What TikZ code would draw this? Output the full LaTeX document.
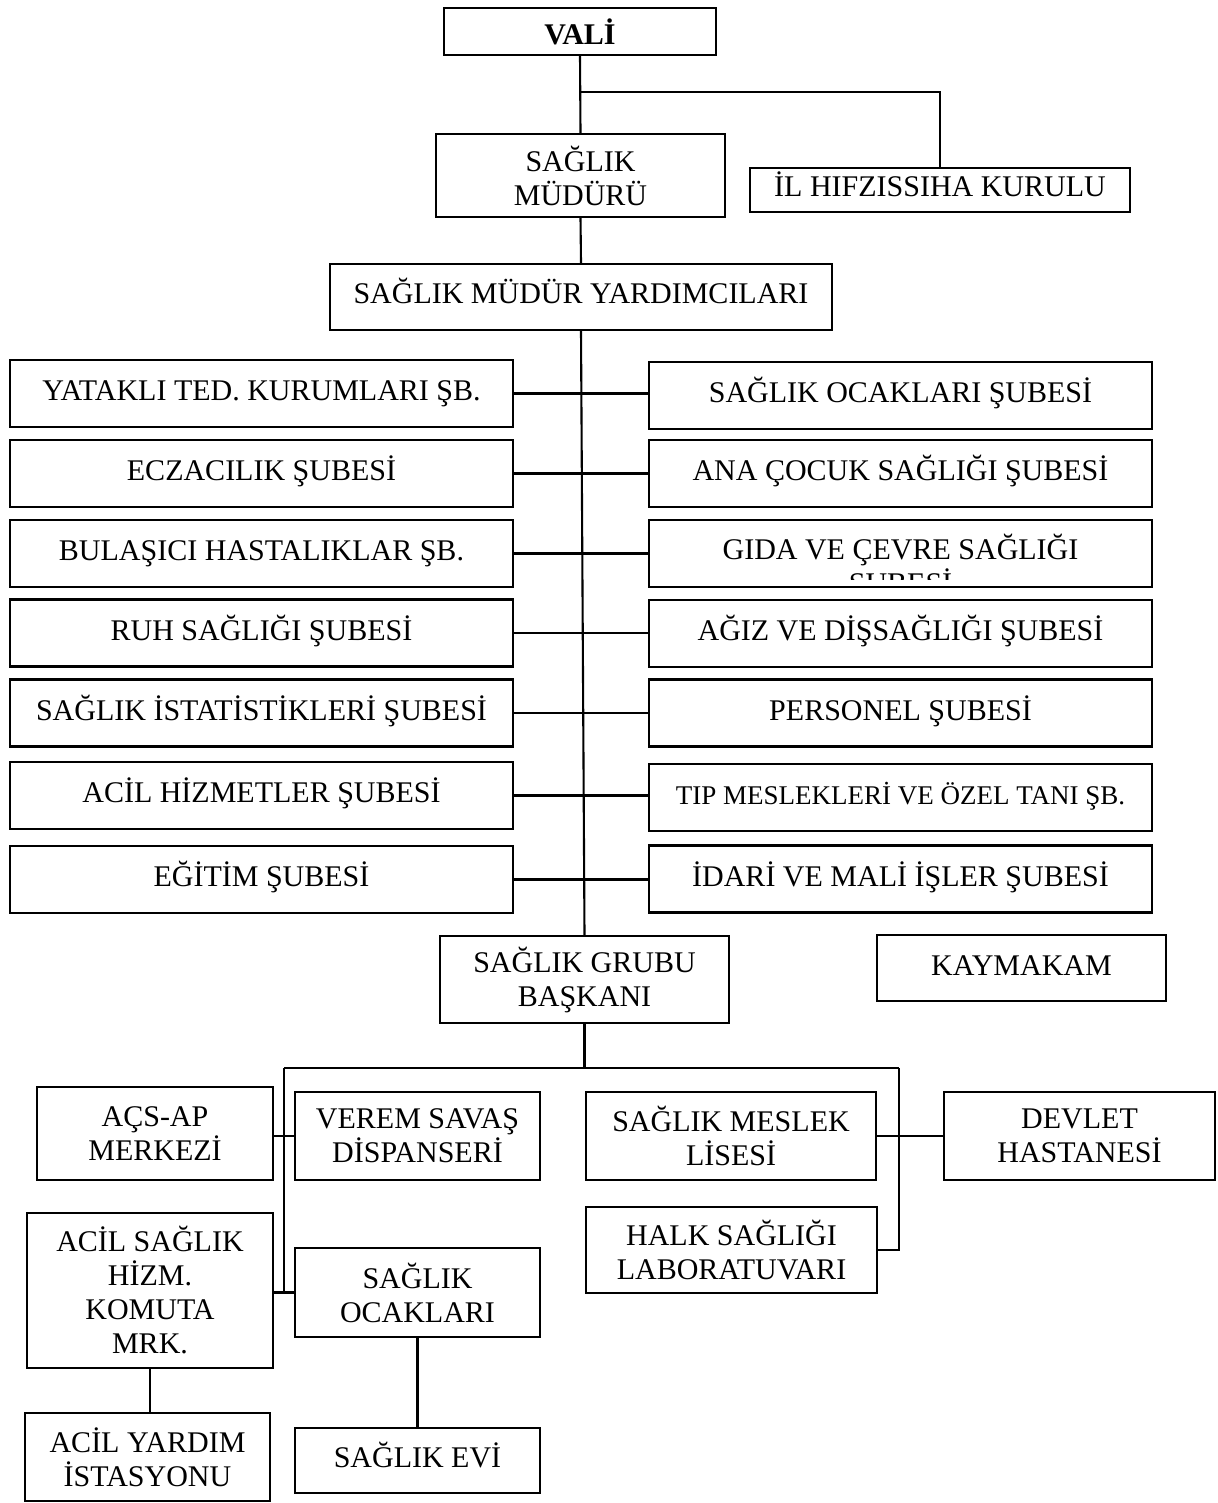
\documentclass[tikz,border=0pt]{standalone}
\usepackage{fontspec}
\setmainfont{Liberation Serif}
\newcommand{\yazi}{\fontsize{30}{34}\selectfont}
\newcommand{\kucukyazi}{\fontsize{27}{31}\selectfont}
\tikzset{
	kutu/.style={draw, line width=2.4pt, align=center, inner sep=0pt, font=\yazi},
	tek/.style={text height=23pt, text depth=9pt},
	sube/.style={kutu, tek, minimum width=503pt, minimum height=67pt},
	cizgi/.style={line width=2.1pt},
}

\begin{document}
\begin{tikzpicture}[x=1pt, y=-1pt]
	\useasboundingbox (0,0) rectangle (1217,1503);

	% ust kisim
	\node[kutu, minimum width=272pt, minimum height=47pt] (vali) at (580,31.5) {\textbf{VALİ}};
	\node[kutu, minimum width=289pt, minimum height=83pt] (mudur) at (580.5,175.5) {SAĞLIK\\MÜDÜRÜ};
	\node[kutu, tek, minimum width=380pt, minimum height=44pt] (hifz) at (940,190) {İL HIFZISSIHA KURULU};
	\node[kutu, tek, minimum width=502pt, minimum height=66pt] (yrd) at (581,297) {SAĞLIK MÜDÜR YARDIMCILARI};

	\coordinate (dal) at (580.5,92);
	\draw[cizgi] (vali.south) -- (mudur.north);
	\draw[cizgi] (dal) -| (hifz.north);
	\draw[cizgi] (mudur.south) -- (yrd.north);

	% subeler
	\node[sube] (yatakli) at (261.5,393.5) {YATAKLI TED. KURUMLARI ŞB.};
	\node[sube] (eczacilik) at (261.5,473.5) {ECZACILIK ŞUBESİ};
	\node[sube] (bulasici) at (261.5,553.5) {BULAŞICI HASTALIKLAR ŞB.};
	\node[sube] (ruh) at (261.5,633) {RUH SAĞLIĞI ŞUBESİ};
	\node[sube] (istatistik) at (261.5,713) {SAĞLIK İSTATİSTİKLERİ ŞUBESİ};
	\node[sube] (acilhizmet) at (261.5,795.5) {ACİL HİZMETLER ŞUBESİ};
	\node[sube] (egitim) at (261.5,879.5) {EĞİTİM ŞUBESİ};

	\node[sube] (ocaksb) at (900.5,395.5) {SAĞLIK OCAKLARI ŞUBESİ};
	\node[sube] (anacocuk) at (900.5,473.5) {ANA ÇOCUK SAĞLIĞI ŞUBESİ};
	\node[sube] (gida) at (900.5,553.5) {};
	\begin{scope}
		\clip (gida.north west) rectangle ([yshift=9pt]gida.south east);
		\node[align=center, font=\yazi] (gidayazi) at (900.5,567) {GIDA VE ÇEVRE SAĞLIĞI\\ŞUBESİ};
	\end{scope}
	\node[sube] (agiz) at (900.5,633.5) {AĞIZ VE DİŞSAĞLIĞI ŞUBESİ};
	\node[sube] (personel) at (900.5,713) {PERSONEL ŞUBESİ};
	\node[sube, font=\kucukyazi] (tip) at (900.5,797.5) {TIP MESLEKLERİ VE ÖZEL TANI ŞB.};
	\node[sube] (idari) at (900.5,879) {İDARİ VE MALİ İŞLER ŞUBESİ};

	\draw[cizgi] (yatakli.east) -- (yatakli.east -| ocaksb.west);
	\draw[cizgi] (eczacilik.east) -- (eczacilik.east -| anacocuk.west);
	\draw[cizgi] (bulasici.east) -- (bulasici.east -| gida.west);
	\draw[cizgi] (ruh.east) -- (ruh.east -| agiz.west);
	\draw[cizgi] (istatistik.east) -- (istatistik.east -| personel.west);
	\draw[cizgi] (acilhizmet.east) -- (acilhizmet.east -| tip.west);
	\draw[cizgi] (egitim.east) -- (egitim.east -| idari.west);

	% alt kisim
	\node[kutu, minimum width=289pt, minimum height=87pt] (sgb) at (584.5,979.5) {SAĞLIK GRUBU\\BAŞKANI};
	\node[kutu, tek, minimum width=289pt, minimum height=66pt] (kaymakam) at (1021.5,968) {KAYMAKAM};
	\draw[cizgi] (yrd.south) -- (sgb.north);

	\node[kutu, minimum width=236pt, minimum height=93pt] (acsap) at (155,1133.5) {AÇS-AP\\MERKEZİ};
	\node[kutu, minimum width=245pt, minimum height=88pt] (verem) at (417.5,1136) {VEREM SAVAŞ\\DİSPANSERİ};
	\node[kutu, minimum width=290pt, minimum height=88pt] (meslek) at (731,1136) {SAĞLIK MESLEK\\LİSESİ};
	\node[kutu, minimum width=271pt, minimum height=88pt] (devlet) at (1079.5,1136) {DEVLET\\HASTANESİ};
	\node[kutu, minimum width=291pt, minimum height=86pt] (halk) at (731.5,1250) {HALK SAĞLIĞI\\LABORATUVARI};
	\node[kutu, minimum width=246pt, minimum height=155pt] (acil) at (150,1290.5) {ACİL SAĞLIK\\HİZM.\\KOMUTA\\MRK.};
	\node[kutu, minimum width=245pt, minimum height=89pt] (ocak) at (417.5,1292.5) {SAĞLIK\\OCAKLARI};
	\node[kutu, minimum width=245pt, minimum height=88pt] (yardim) at (147.5,1457) {ACİL YARDIM\\İSTASYONU};
	\node[kutu, tek, minimum width=245pt, minimum height=65pt] (ev) at (417.5,1460.5) {SAĞLIK EVİ};

	\coordinate (solkol) at (284,1068);
	\coordinate (sagkol) at (899,1068);
	\draw[cizgi] (sgb.south) -- (sgb.south |- solkol);
	\draw[cizgi] (solkol) -- (sagkol);
	\draw[cizgi] (solkol) |- (ocak.west);
	\draw[cizgi] (sagkol) |- (halk.east);
	\draw[cizgi] (verem.west -| acsap.east) -- (verem.west);
	\draw[cizgi] (ocak.west -| acil.east) -- (ocak.west);
	\draw[cizgi] (meslek.east) -- (devlet.west);
	\draw[cizgi] (acil.south) -- (acil.south |- yardim.north);
	\draw[cizgi] (ocak.south) -- (ev.north);
\end{tikzpicture}
\end{document}
